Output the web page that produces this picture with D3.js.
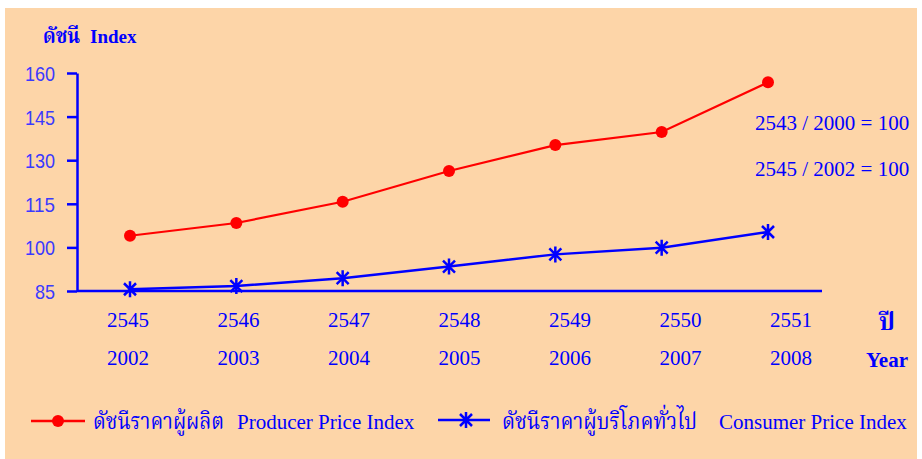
<!DOCTYPE html>
<html lang="th">
<head>
<meta charset="UTF-8">
<title>Price Index</title>
<style>
  body { margin: 0; background: #fff; }
  svg text { font-family: "Liberation Serif", "Times New Roman", serif; }
  .thai { font-family: "Noto Serif Thai", "Norasi", "Loma", "Garuda", "Noto Sans Thai", sans-serif; }
</style>
</head>
<body>
<script src="https://cdn.jsdelivr.net/npm/d3@7/dist/d3.min.js"></script>
<script>
// data
const beYears = ["2545", "2546", "2547", "2548", "2549", "2550", "2551"];
const adYears = ["2002", "2003", "2004", "2005", "2006", "2007", "2008"];
const ppi = [104.0, 108.4, 115.7, 126.3, 135.2, 139.7, 156.8];
const cpi = [85.6, 86.7, 89.4, 93.4, 97.6, 99.9, 105.3];
const yTicks = [85, 100, 115, 130, 145, 160];
const baseNotes = ["2543 / 2000 = 100", "2545 / 2002 = 100"];

const W = 922, H = 459;
const svg = d3.select("body").append("svg")
    .attr("width", W)
    .attr("height", H);

// peach background
svg.append("rect")
    .attr("x", 5).attr("y", 8)
    .attr("width", 912).attr("height", 451)
    .attr("fill", "#fdd5a8");

const x = d3.scalePoint().domain(beYears).range([130, 768]);
const xLab = d3.scalePoint().domain(beYears).range([128, 791]);
const y = d3.scaleLinear().domain([85, 160]).range([291, 73]);
const axisX = 77;

// y axis
const yAxis = d3.axisLeft(y).tickValues(yTicks).tickSize(10).tickSizeOuter(0).tickPadding(12);
const gy = svg.append("g")
    .attr("transform", "translate(" + axisX + ",0)")
    .call(yAxis);
gy.select(".domain").attr("stroke", "#0000ff").attr("stroke-width", 2.5);
gy.selectAll(".tick line").attr("stroke", "#0000ff").attr("stroke-width", 2.5);
gy.selectAll(".tick text")
    .attr("fill", "#3a3aff")
    .style("font-family", "'Liberation Sans', Arial, sans-serif")
    .style("font-size", "21px")
    .attr("dy", "0.36em")
    .attr("textLength", d => String(d).length * 10)
    .attr("lengthAdjust", "spacingAndGlyphs");

// x axis line
svg.append("line")
    .attr("x1", axisX).attr("x2", 822)
    .attr("y1", y(85)).attr("y2", y(85))
    .attr("stroke", "#0000ff").attr("stroke-width", 2.5);

// x labels (two rows)
svg.append("g").selectAll("text").data(beYears).enter().append("text")
    .attr("x", d => xLab(d)).attr("y", 327)
    .attr("text-anchor", "middle")
    .attr("fill", "#0000ff").style("font-size", "21px")
    .text(d => d);
svg.append("g").selectAll("text").data(adYears).enter().append("text")
    .attr("x", (d, i) => xLab(beYears[i])).attr("y", 365)
    .attr("text-anchor", "middle")
    .attr("fill", "#0000ff").style("font-size", "21px")
    .text(d => d);

// axis titles
svg.append("text").attr("class", "thai")
    .attr("x", 43).attr("y", 43)
    .attr("textLength", 37).attr("lengthAdjust", "spacingAndGlyphs")
    .attr("fill", "#0000ff").style("font-size", "22px").style("font-weight", "bold")
    .text("ดัชนี");
svg.append("text")
    .attr("x", 90).attr("y", 43)
    .attr("fill", "#0000ff").style("font-size", "19px").style("font-weight", "bold")
    .text("Index");
svg.append("text").attr("class", "thai")
    .attr("x", 879).attr("y", 330)
    .attr("fill", "#0000ff").style("font-size", "24px").style("font-weight", "bold")
    .text("ปี");
svg.append("text")
    .attr("x", 866).attr("y", 367)
    .attr("fill", "#0000ff").style("font-size", "21px").style("font-weight", "bold")
    .text("Year");

// base year notes
svg.append("g").selectAll("text").data(baseNotes).enter().append("text")
    .attr("x", 755).attr("y", (d, i) => 130 + i * 46)
    .attr("fill", "#0000ff").style("font-size", "21px")
    .text(d => d);

// lines
const line = d3.line()
    .x((d, i) => x(beYears[i]))
    .y(d => y(d));

svg.append("path")
    .attr("d", line(ppi))
    .attr("fill", "none").attr("stroke", "#ff0000").attr("stroke-width", 2.2);
svg.append("path")
    .attr("d", line(cpi))
    .attr("fill", "none").attr("stroke", "#0000ff").attr("stroke-width", 2.5);

// markers
function starPath(r) {
    return "M0," + (-r) + "L0," + r +
        "M" + (-r * 0.75) + "," + (-r * 0.75) + "L" + (r * 0.75) + "," + (r * 0.75) +
        "M" + (-r * 0.75) + "," + (r * 0.75) + "L" + (r * 0.75) + "," + (-r * 0.75);
}

svg.append("g").selectAll("circle").data(ppi).enter().append("circle")
    .attr("cx", (d, i) => x(beYears[i])).attr("cy", d => y(d))
    .attr("r", 6).attr("fill", "#ff0000");

svg.append("g").selectAll("path").data(cpi).enter().append("path")
    .attr("transform", (d, i) => "translate(" + x(beYears[i]) + "," + y(d) + ")")
    .attr("d", starPath(8))
    .attr("fill", "none").attr("stroke", "#0000ff").attr("stroke-width", 2.5);

// legend
const lg = svg.append("g");
lg.append("line").attr("x1", 31).attr("x2", 85).attr("y1", 421).attr("y2", 421)
    .attr("stroke", "#ff0000").attr("stroke-width", 2.5);
lg.append("circle").attr("cx", 58).attr("cy", 421).attr("r", 6).attr("fill", "#ff0000");
lg.append("text").attr("class", "thai")
    .attr("x", 93).attr("y", 429)
    .attr("textLength", 131).attr("lengthAdjust", "spacingAndGlyphs")
    .attr("fill", "#0000ff").style("font-size", "23px")
    .text("ดัชนีราคาผู้ผลิต");
lg.append("text")
    .attr("x", 237).attr("y", 429)
    .attr("fill", "#0000ff").style("font-size", "21px")
    .text("Producer Price Index");

lg.append("line").attr("x1", 438).attr("x2", 490).attr("y1", 420).attr("y2", 420)
    .attr("stroke", "#0000ff").attr("stroke-width", 2.5);
lg.append("path").attr("transform", "translate(466,420)")
    .attr("d", starPath(8))
    .attr("fill", "none").attr("stroke", "#0000ff").attr("stroke-width", 2.5);
lg.append("text").attr("class", "thai")
    .attr("x", 502).attr("y", 429)
    .attr("textLength", 195).attr("lengthAdjust", "spacingAndGlyphs")
    .attr("fill", "#0000ff").style("font-size", "23px")
    .text("ดัชนีราคาผู้บริโภคทั่วไป");
lg.append("text")
    .attr("x", 719).attr("y", 429)
    .attr("fill", "#0000ff").style("font-size", "21px")
    .text("Consumer Price Index");
</script>
</body>
</html>
